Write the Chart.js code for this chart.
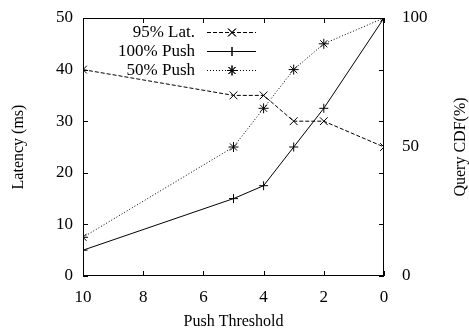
<!DOCTYPE html>
<html>
<head>
<meta charset="utf-8">
<script src="https://cdn.jsdelivr.net/npm/chart.js@4"></script>
<style>
  html, body { margin: 0; padding: 0; background: #fff; }
  #wrap { width: 469px; height: 330px; }
</style>
</head>
<body>
<div id="wrap"><canvas id="chart"></canvas></div>
<script>
// Data
const thresholds = [10, 5, 4, 3, 2, 0];
const lat95 = [40, 35, 35, 30, 30, 25];      // left axis, ms
const push100 = [10, 30, 35, 50, 65, 100];   // right axis, %
const push50 = [15, 50, 65, 80, 90, 100];    // right axis, %

const FONT = 'Liberation Serif, Times New Roman, serif';

// Frame size (px)
const AREA = { left: 83, right: 384, top: 18, bottom: 276 };

function toPoints(values) {
    return thresholds.map((t, i) => ({ x: t, y: values[i] }));
}

const SERIES = [
    { label: '95% Lat.', data: lat95, axis: 'y', style: 'crossRot', radius: 5.5, dash: [4, 2] },
    { label: '100% Push', data: push100, axis: 'y2', style: 'cross', radius: 4.5, dash: [] },
    { label: '50% Push', data: push50, axis: 'y2', style: 'star', radius: 5, dash: [1, 2] }
];

// vertical axes: fixed width, no extra top/bottom padding
function fixVertical(width) {
    return scale => {
        scale.width = width;
        scale.paddingTop = 0;
        scale.paddingBottom = 0;
    };
}

/**
 * Frame, inward tick marks, titles and legend (gnuplot look)
 */
const framePlugin = {
    id: 'frame',
    afterDraw(chart) {
        const ctx = chart.ctx;
        const { left, right, top, bottom } = chart.chartArea;
        const sx = chart.scales.x, sy = chart.scales.y, sy2 = chart.scales.y2;
        const T = 5;
        ctx.save();
        ctx.strokeStyle = '#000';
        ctx.lineWidth = 1;
        ctx.setLineDash([]);
        ctx.strokeRect(left + 0.5, top + 0.5, right - left - 1, bottom - top - 1);

        ctx.beginPath();
        for (let v = 0; v <= 10; v += 2) {
            const px = Math.round(sx.getPixelForValue(v)) + 0.5;
            ctx.moveTo(px, bottom); ctx.lineTo(px, bottom - T);
            ctx.moveTo(px, top); ctx.lineTo(px, top + T);
        }
        for (let v = 0; v <= 50; v += 10) {
            const py = Math.round(sy.getPixelForValue(v)) + 0.5;
            ctx.moveTo(left, py); ctx.lineTo(left + T, py);
        }
        for (let v = 0; v <= 100; v += 20) {
            const py = Math.round(sy2.getPixelForValue(v)) + 0.5;
            ctx.moveTo(right, py); ctx.lineTo(right - T, py);
        }
        ctx.stroke();

        // axis titles
        ctx.fillStyle = '#000';
        ctx.font = '16px ' + FONT;
        ctx.textAlign = 'center';
        ctx.textBaseline = 'middle';
        ctx.fillText('Push Threshold', (left + right) / 2, 322);
        ctx.save();
        ctx.translate(19, (top + bottom) / 2);
        ctx.rotate(-Math.PI / 2);
        ctx.fillText('Latency (ms)', 0, 0);
        ctx.restore();
        ctx.save();
        ctx.translate(461, (top + bottom) / 2);
        ctx.rotate(-Math.PI / 2);
        ctx.fillText('Query CDF(%)', 0, 0);
        ctx.restore();

        // legend
        ctx.font = '17px ' + FONT;
        ctx.textAlign = 'right';
        SERIES.forEach((s, i) => {
            const y = 32 + i * 19;
            ctx.fillText(s.label, 195, y + 1);
            ctx.beginPath();
            ctx.setLineDash(s.dash);
            ctx.moveTo(207, y + 0.5);
            ctx.lineTo(256, y + 0.5);
            ctx.stroke();
            ctx.setLineDash([]);
            Chart.helpers.drawPoint(ctx, { pointStyle: s.style, radius: s.radius, borderWidth: 1 }, 232, y + 0.5);
            ctx.stroke();
        });
        ctx.restore();
    }
};

new Chart(document.getElementById('chart'), {
    type: 'line',
    data: {
        datasets: SERIES.map(s => ({
            label: s.label,
            data: toPoints(s.data),
            yAxisID: s.axis,
            borderColor: '#000',
            backgroundColor: '#000',
            borderWidth: 1,
            borderDash: s.dash,
            pointStyle: s.style,
            pointRadius: s.radius,
            pointBorderWidth: 1,
            pointBorderColor: '#000',
            tension: 0
        }))
    },
    options: {
        responsive: true,
        maintainAspectRatio: false,
        animation: false,
        layout: { padding: { top: AREA.top, left: 0, right: 0, bottom: 0 } },
        plugins: { legend: { display: false }, tooltip: { enabled: false } },
        scales: {
            x: {
                type: 'linear',
                reverse: true,
                min: 0,
                max: 10,
                grid: { display: false, drawTicks: false },
                border: { display: false },
                ticks: { stepSize: 2, color: '#000', padding: 11, font: { family: FONT, size: 17 } },
                afterFit(scale) {
                    scale.height = 330 - AREA.bottom;
                    scale.paddingLeft = 0;
                    scale.paddingRight = 0;
                }
            },
            y: {
                position: 'left',
                min: 0,
                max: 50,
                grid: { display: false, drawTicks: false },
                border: { display: false },
                ticks: { stepSize: 10, color: '#000', padding: 10, font: { family: FONT, size: 17 } },
                afterFit: fixVertical(AREA.left)
            },
            y2: {
                position: 'right',
                min: 0,
                max: 100,
                grid: { display: false, drawTicks: false },
                border: { display: false },
                ticks: {
                    stepSize: 10,
                    autoSkip: false,
                    color: '#000',
                    padding: 18,
                    font: { family: FONT, size: 17 },
                    callback: v => (v % 50 === 0 ? v : '')
                },
                afterFit: fixVertical(469 - AREA.right)
            }
        }
    },
    plugins: [framePlugin]
});
</script>
</body>
</html>
